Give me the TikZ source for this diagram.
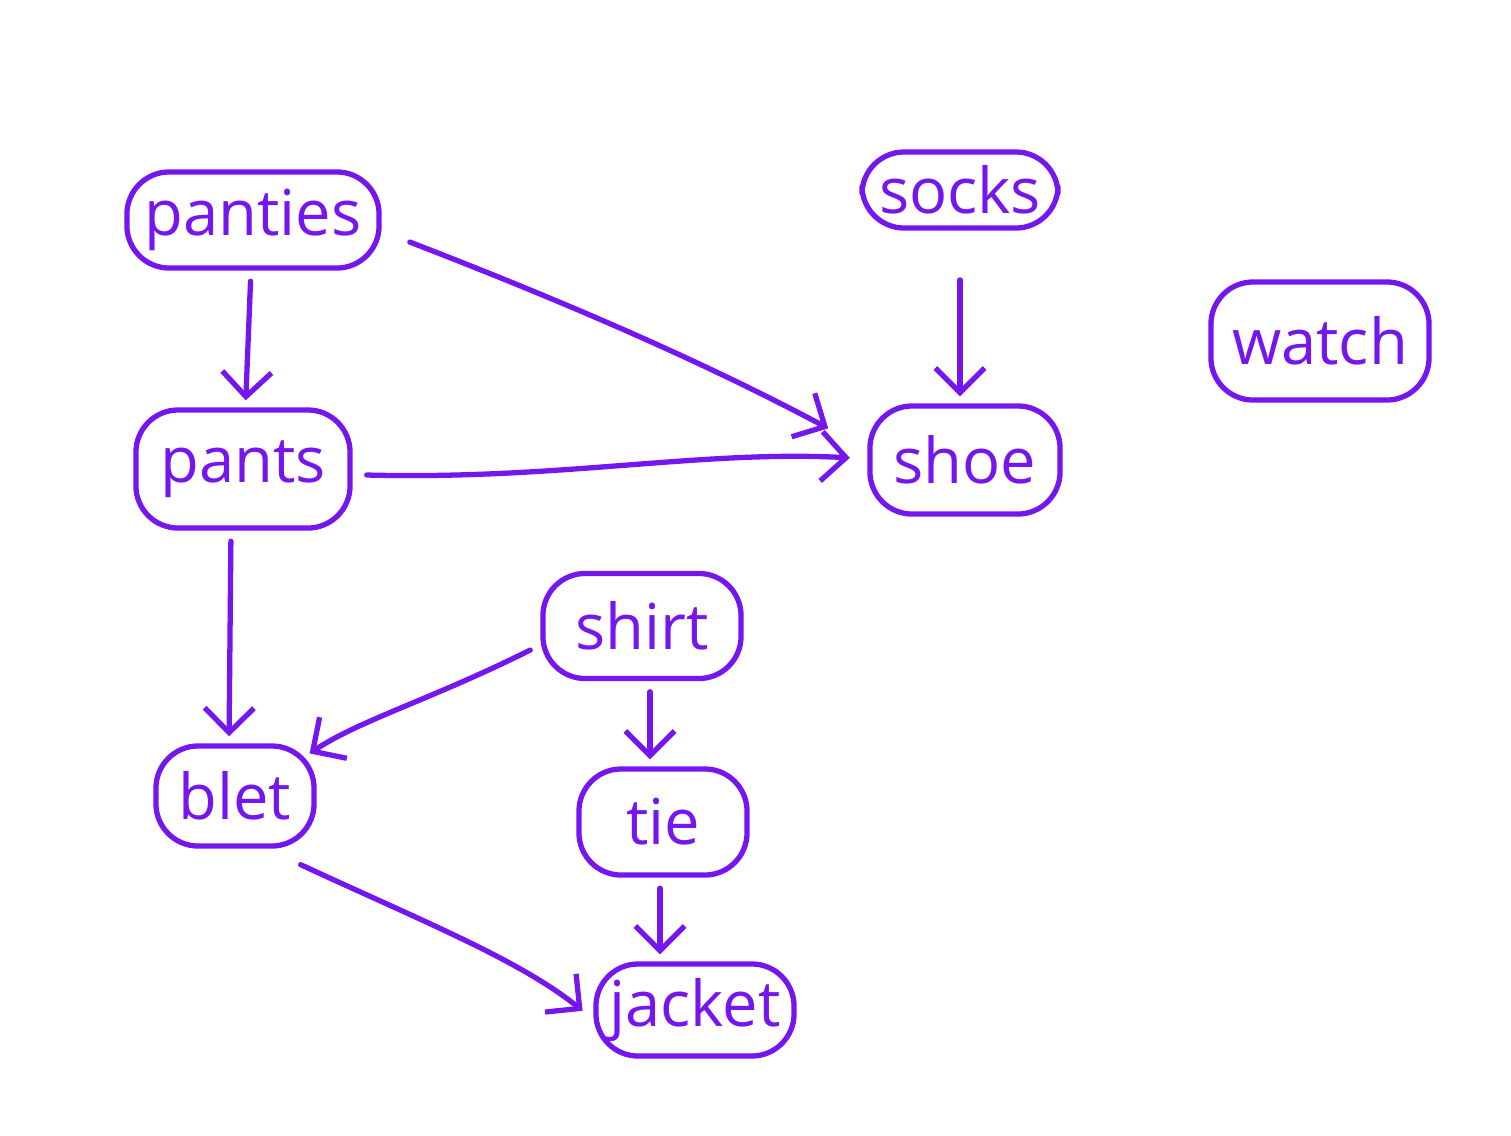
\documentclass[tikz,border=0pt]{standalone}
\usepackage{fontspec}
\setmainfont{Open Sans}
\usepackage{tikz}
\usetikzlibrary{arrows.meta,calc,positioning}
\definecolor{tinta}{RGB}{118,22,238}
\tikzset{
  prenda/.style={draw=tinta,line width=1.5pt,rounded corners=12pt,text=tinta,
    font=\fontsize{18}{22}\selectfont,inner sep=0pt,align=center},
  flecha/.style={-{Straight Barb[length=7pt,width=14pt,line width=1.5pt]},draw=tinta,
    line width=1.5pt,line cap=round,shorten <=3pt,shorten >=2pt}
}
\begin{document}
\begin{tikzpicture}[x=0.01cm,y=0.01cm]
\useasboundingbox (0,0) rectangle (1511,-1135);
% prendas
\node[prenda,minimum width=2.52cm,minimum height=0.96cm] (panties) at (253,-220) {panties};
\node[prenda,minimum width=1.96cm,minimum height=0.76cm] (socks) at (960,-190) {socks};
\node[prenda,minimum width=2.18cm,minimum height=1.18cm] (watch) at (1320,-341) {watch};
\node[prenda,minimum width=2.14cm,minimum height=1.18cm] (pants) at (243,-469) {pants};
\node[prenda,minimum width=1.90cm,minimum height=1.08cm] (shoe) at (965,-460) {shoe};
\node[prenda,minimum width=1.98cm,minimum height=1.05cm] (shirt) at (642,-626) {shirt};
\node[prenda,minimum width=1.58cm,minimum height=1.00cm] (blet) at (235,-796) {blet};
\node[prenda,minimum width=1.68cm,minimum height=1.06cm] (tie) at (663,-822) {tie};
\node[prenda,minimum width=1.98cm,minimum height=0.92cm] (jacket) at (695,-1010) {jacket};
% puntos de salida y llegada
\coordinate (a1) at ($(panties.east)+(28,-22)$);
\coordinate (b1) at ($(shoe.west)+(-36,30)$);
\coordinate (a2) at ($(pants.east)+(14,-6)$);
\coordinate (b2) at ($(shoe.west)+(-14,2)$);
\coordinate (a3) at ($(shirt.west)+(-10,-24)$);
\coordinate (b3) at ($(blet.north east)+(-10,-12)$);
\coordinate (a4) at ($(blet.south east)+(-16,-16)$);
\coordinate (b4) at ($(jacket.west)+(-8,-3)$);
% flechas
\draw[flecha] (panties) -- (pants);
\draw[flecha,shorten <=0pt,shorten >=1pt] (a1) .. controls (560,-300) and (700,-360) .. (b1);
\draw[flecha,shorten <=14pt] (socks) -- ($(shoe.north)+(-5,0)$);
\draw[flecha,shorten <=0pt,shorten >=1pt] (a2) .. controls (560,-480) and (700,-450) .. (b2);
\draw[flecha] ($(pants.south)+(-12,0)$) -- ($(blet.north)+(-6,0)$);
\draw[flecha,shorten <=0pt,shorten >=1pt] (a3) .. controls (430,-700) and (360,-720) .. (b3);
\draw[flecha] ($(shirt.south)+(8,0)$) -- ($(tie.north)+(-13,0)$);
\draw[flecha,shorten <=0pt,shorten >=1pt] (a4) .. controls (420,-920) and (520,-960) .. (b4);
\draw[flecha] ($(tie.south)+(-3,0)$) -- ($(jacket.north)+(-35,0)$);
\end{tikzpicture}
\end{document}
